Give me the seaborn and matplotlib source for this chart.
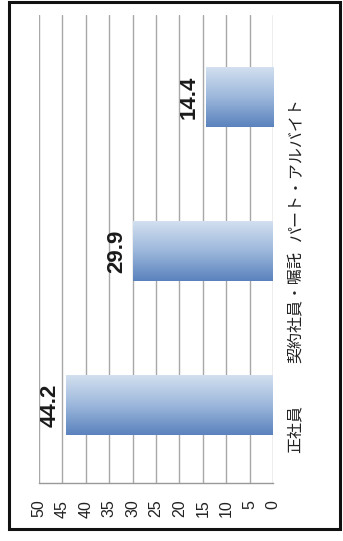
import numpy as np
import pandas as pd
import matplotlib
matplotlib.use("Agg")
import matplotlib.pyplot as plt
from matplotlib.patches import Rectangle
from matplotlib.colors import LinearSegmentedColormap
import seaborn as sns

categories = ["パート・アルバイト", "契約社員・嘱託", "正社員"]
values = [14.4, 29.9, 44.2]
value_labels = ["14.4", "29.9", "44.2"]
ticks = [0, 5, 10, 15, 20, 25, 30, 35, 40, 45, 50]

sns.set_style("white")
plt.rcParams["font.family"] = ["Liberation Sans", "Noto Sans CJK JP", "DejaVu Sans"]

W, H = 343, 541
fig = plt.figure(figsize=(W / 100, H / 100), dpi=100)
fig.patch.set_facecolor("white")
ax = fig.add_axes([39 / W, 1 - 483 / H, (273 - 39) / W, (483 - 15) / H])

df = pd.DataFrame({"cat": categories, "val": values})
sns.barplot(data=df, x="val", y="cat", order=categories, orient="h",
            width=0.39, color="#7a9ccc", ax=ax, zorder=3)

ax.set_xlim(50, 0)
ax.set_ylim(2.506, -0.532)
ax.set_xticks(ticks)
ax.set_xticklabels([str(t) for t in ticks], rotation=90, fontsize=11.5,
                   color="#222222")
ax.tick_params(axis="x", length=4, color="#999999", pad=8)
ax.grid(axis="x", color="#a8a8a8", lw=1.0, zorder=0)
ax.grid(axis="y", visible=False)
for s in ["top", "left", "right"]:
    ax.spines[s].set_visible(False)
ax.spines["bottom"].set_color("#999999")
ax.spines["bottom"].set_linewidth(1.0)
ax.set_xlabel("")
ax.set_ylabel("")

# category labels on the right, rotated
ax.yaxis.tick_right()
ax.tick_params(axis="y", length=0, pad=16)
for lab in ax.get_yticklabels():
    lab.set_rotation(90)
    lab.set_rotation_mode("anchor")
    lab.set_ha("right")
    lab.set_va("center")
    lab.set_fontsize(11.5)
    lab.set_family(["Noto Sans CJK JP", "DejaVu Sans"])
    lab.set_color("#222222")

# cylinder-like gradient on bars
cmap = LinearSegmentedColormap.from_list("cyl", ["#d4e1f0", "#9db8dc", "#5a82bd"])
grad = np.linspace(0, 1, 256).reshape(-1, 1)
for p in ax.patches:
    x0, y0 = p.get_x(), p.get_y()
    w, h = p.get_width(), p.get_height()
    p.set_facecolor("none")
    p.set_edgecolor("none")
    im = ax.imshow(grad, cmap=cmap, aspect="auto", origin="upper",
                   extent=[x0, x0 + w, y0 + h, y0], zorder=3)
    im.set_clip_path(p)

ax.set_xlim(50, 0)
ax.set_ylim(2.506, -0.532)

# value labels
for i, (v, t) in enumerate(zip(values, value_labels)):
    ax.annotate(t, xy=(v, i), xytext=(-4, 0), textcoords="offset points",
                rotation=90, rotation_mode="anchor", ha="center", va="bottom",
                fontsize=16, fontweight="bold", color="#1a1a1a", zorder=5)

# outer frame
frame = Rectangle((8.5 / W, 1 - 528.5 / H), (339.5 - 8.5) / W, (528.5 - 1.5) / H,
                  transform=fig.transFigure, fill=False, edgecolor="#111111",
                  linewidth=2.2)
fig.patches.append(frame)

fig.savefig("out.png", dpi=100)
